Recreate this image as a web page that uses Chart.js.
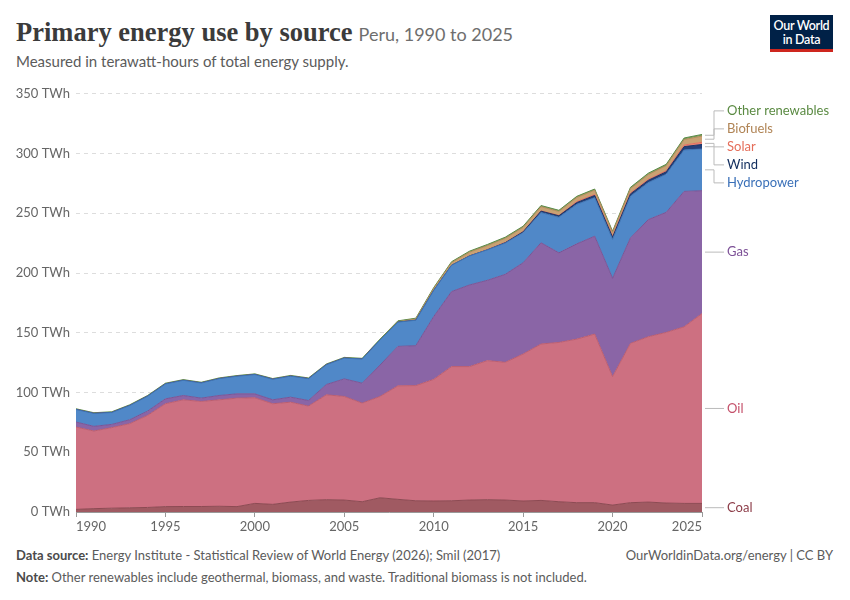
<!DOCTYPE html>
<html>
<head>
<meta charset="utf-8">
<script src="https://cdn.jsdelivr.net/npm/chart.js@4.4.0/dist/chart.umd.min.js"></script>
<style>
  body { margin: 0; width: 850px; height: 600px; background: #fff; font-family: Lato, sans-serif; position: relative; overflow: hidden; }
  .title { position: absolute; left: 16px; top: 17px; white-space: nowrap; }
  .title .main { font-family: "Liberation Serif", serif; font-weight: bold; font-size: 26.5px; color: #3b3b3b; }
  .title .sub { font-size: 18px; color: #6e6e6e; margin-left: 6px; }
  .subtitle { position: absolute; left: 16px; top: 52px; font-size: 15px; color: #5b5b5b; }
  .logo { position: absolute; left: 770px; top: 15px; width: 63px; background: #002147; border-bottom: 3px solid #ce261e;
          color: #fff; font-size: 12.5px; font-weight: 600; line-height: 14px; text-align: center; padding-top: 4px; height: 30px; letter-spacing: -0.3px; }
  .chartbox { position: absolute; left: 0; top: 80px; width: 850px; height: 460px; }
  .footer { position: absolute; left: 16px; font-size: 13px; color: #5b5b5b; white-space: nowrap; }
  .footer b { color: #4b4b4b; }
  .right { position: absolute; right: 17px; top: 547px; font-size: 13px; color: #5b5b5b; }
</style>
</head>
<body>
<div class="title"><span class="main">Primary energy use by source</span><span class="sub">Peru, 1990 to 2025</span></div>
<div class="subtitle">Measured in terawatt-hours of total energy supply.</div>
<div class="logo">Our World<br>in Data</div>
<div class="chartbox"><canvas id="chart"></canvas></div>
<div class="footer" style="top:547px"><b>Data source:</b> Energy Institute - Statistical Review of World Energy (2026); Smil (2017)</div>
<div class="right">OurWorldinData.org/energy | CC BY</div>
<div class="footer" style="top:569px"><b>Note:</b> Other renewables include geothermal, biomass, and waste. Traditional biomass is not included.</div>
<script>
// Data (TWh)
const years = [
  1990, 1991, 1992, 1993, 1994, 1995, 1996, 1997, 1998, 1999,
  2000, 2001, 2002, 2003, 2004, 2005, 2006, 2007, 2008, 2009,
  2010, 2011, 2012, 2013, 2014, 2015, 2016, 2017, 2018, 2019,
  2020, 2021, 2022, 2023, 2024, 2025,
];
const coal = [
  2.2, 2.8, 3.2, 3.5, 3.8, 4.5, 4.6, 4.6, 4.8, 4.5,
  7.2, 6.4, 8.3, 9.7, 10.3, 10.0, 8.6, 11.9, 10.6, 9.4,
  9.2, 9.4, 10.0, 10.3, 10.0, 9.2, 9.7, 8.6, 7.8, 7.8,
  5.8, 7.8, 8.3, 7.5, 7.2, 7.2,
];
const oil = [
  68.9, 65.0, 67.4, 70.4, 77.0, 86.1, 89.3, 87.9, 89.1, 90.8,
  88.4, 84.2, 83.6, 78.9, 87.8, 86.7, 82.5, 84.8, 95.0, 96.4,
  101.8, 112.3, 111.7, 116.4, 115.3, 123.0, 130.9, 133.3, 136.9, 141.1,
  107.5, 133.3, 138.4, 142.8, 147.8, 158.9,
];
const gas = [
  4.2, 3.9, 2.7, 3.3, 3.6, 4.1, 3.6, 2.8, 3.6, 3.6,
  3.3, 3.3, 4.2, 4.7, 8.6, 14.7, 16.7, 26.3, 33.0, 33.4,
  52.5, 62.8, 68.3, 67.2, 73.6, 76.4, 84.7, 75.0, 79.7, 81.9,
  82.3, 88.3, 98.0, 100.5, 113.3, 102.8,
];
const hydro = [
  10.5, 10.8, 10.0, 11.9, 12.5, 12.5, 12.7, 12.7, 14.1, 14.7,
  16.1, 17.2, 17.6, 18.3, 16.6, 17.4, 20.2, 21.0, 20.3, 21.3,
  21.9, 22.0, 24.3, 25.5, 26.2, 25.2, 25.3, 29.8, 33.1, 32.3,
  32.6, 34.9, 31.0, 31.9, 34.7, 34.9,
];
const wind = [
  0, 0, 0, 0, 0, 0, 0, 0, 0, 0,
  0, 0, 0, 0, 0, 0, 0, 0, 0, 0,
  0, 0, 0, 0, 0.3, 0.7, 1.2, 1.2, 1.5, 1.8,
  1.8, 1.9, 1.9, 2.0, 2.8, 3.8,
];
const solar = [
  0, 0, 0, 0, 0, 0, 0, 0, 0, 0,
  0, 0, 0, 0, 0, 0, 0, 0, 0, 0,
  0, 0, 0.1, 0.3, 0.3, 0.3, 0.3, 0.3, 0.8, 0.8,
  0.8, 0.8, 0.8, 0.9, 1.3, 1.8,
];
const biofuels = [
  0, 0, 0, 0, 0, 0, 0, 0, 0, 0,
  0, 0, 0, 0, 0, 0, 0, 0.1, 0.4, 1.0,
  1.6, 2.2, 3.0, 3.2, 3.3, 3.4, 3.4, 3.3, 3.4, 3.6,
  3.2, 3.6, 4.0, 4.2, 4.6, 5.2,
];
const otherRenewables = [
  0.6, 0.6, 0.6, 0.6, 0.6, 0.6, 0.6, 0.6, 0.6, 0.6,
  0.6, 0.6, 0.6, 0.6, 0.6, 0.6, 0.6, 0.6, 0.7, 0.7,
  0.8, 0.8, 0.9, 1.0, 1.0, 1.0, 1.0, 1.0, 1.0, 1.0,
  1.0, 1.1, 1.2, 1.2, 1.3, 1.4,
];
const yTicks = [0, 50, 100, 150, 200, 250, 300, 350];
const xTicks = [1990, 1995, 2000, 2005, 2010, 2015, 2020, 2025];

// Series: name, values, fill, border, label colour
const series = [
  ['Coal', coal, '#a05a62', '#8d4a53', '#8c3c48'],
  ['Oil', oil, '#cd7081', '#bb5e70', '#c4506a'],
  ['Gas', gas, '#8a65a6', '#7a5596', '#7d5197'],
  ['Hydropower', hydro, '#5088c8', '#3f74b3', '#3a70b8'],
  ['Wind', wind, '#24407a', '#1c3566', '#122e5e'],
  ['Solar', solar, '#ee8877', '#e07060', '#e56e5a'],
  ['Biofuels', biofuels, '#c9a273', '#b38c5c', '#b08455'],
  ['Other renewables', otherRenewables, '#72a05c', '#5c8a48', '#5a8a42'],
];

// Labels at the right end of each band, spread apart when they collide
const endLabels = {
  id: 'endLabels',
  afterDatasetsDraw(chart) {
    const { ctx, scales: { y }, chartArea } = chart;
    const last = years.length - 1;
    let base = 0;
    const items = series.map(([name, vals, , , color]) => {
      const mid = base + vals[last] / 2;
      base += vals[last];
      return { name, color, ideal: y.getPixelForValue(mid) };
    });
    items.sort((a, b) => a.ideal - b.ideal);
    const gap = 18;
    const groups = items.map((it) => ({ items: [it], top: it.ideal }));
    let merged = true;
    while (merged) {
      merged = false;
      for (let i = 0; i < groups.length - 1; i++) {
        const g = groups[i];
        const n = groups[i + 1];
        if (g.top + g.items.length * gap > n.top) {
          const all = g.items.concat(n.items);
          const mean = all.reduce((s, it) => s + it.ideal, 0) / all.length;
          groups.splice(i, 2, { items: all, top: mean - (all.length - 1) * gap / 2 });
          merged = true;
          break;
        }
      }
    }
    ctx.save();
    ctx.font = '13px Lato, sans-serif';
    ctx.textBaseline = 'middle';
    ctx.lineWidth = 1;
    const x0 = chartArea.right + 3;
    groups.forEach((g) => {
      g.items.forEach((it, k) => {
        const ly = g.top + k * gap;
        const elbow = x0 + 9;
        ctx.strokeStyle = '#bbbbbb';
        ctx.beginPath();
        ctx.moveTo(x0, it.ideal);
        ctx.lineTo(elbow, it.ideal);
        ctx.lineTo(elbow, ly);
        ctx.lineTo(x0 + 19, ly);
        ctx.stroke();
        ctx.fillStyle = it.color;
        ctx.fillText(it.name, x0 + 22, ly);
      });
    });
    ctx.restore();
  },
};

new Chart(document.getElementById('chart'), {
  type: 'line',
  data: {
    datasets: series.map(([name, vals, bg, border], i) => ({
      label: name,
      data: years.map((yr, j) => ({ x: yr, y: vals[j] })),
      backgroundColor: bg,
      borderColor: border,
      borderWidth: 1,
      pointRadius: 0,
      tension: 0,
      fill: i === 0 ? 'origin' : '-1',
    })),
  },
  options: {
    responsive: true,
    maintainAspectRatio: false,
    animation: false,
    layout: {
      padding: { top: 12, right: 148, bottom: 0, left: 0 },
    },
    scales: {
      x: {
        type: 'linear',
        min: 1990,
        max: 2025,
        afterBuildTicks: (axis) => { axis.ticks = xTicks.map((v) => ({ value: v })); },
        afterFit: (axis) => { axis.height = 28; },
        grid: {
          display: true,
          drawOnChartArea: false,
          drawTicks: true,
          tickLength: 5,
          color: '#999',
        },
        border: { display: true, color: '#999' },
        ticks: {
          align: 'inner',
          maxRotation: 0,
          padding: 2,
          color: '#666',
          font: { family: 'Lato', size: 13 },
          callback: (v) => String(v),
        },
      },
      y: {
        stacked: true,
        min: 0,
        max: 350,
        afterBuildTicks: (axis) => { axis.ticks = yTicks.map((v) => ({ value: v })); },
        afterFit: (axis) => { axis.width = 76; },
        grid: {
          color: '#dddddd',
          drawTicks: false,
        },
        border: { display: false, dash: [4, 4] },
        ticks: {
          padding: 6,
          color: '#666',
          font: { family: 'Lato', size: 13 },
          callback: (v) => v + ' TWh',
        },
      },
    },
    plugins: {
      legend: { display: false },
      tooltip: { enabled: false },
    },
  },
  plugins: [endLabels],
});
</script>
</body>
</html>
